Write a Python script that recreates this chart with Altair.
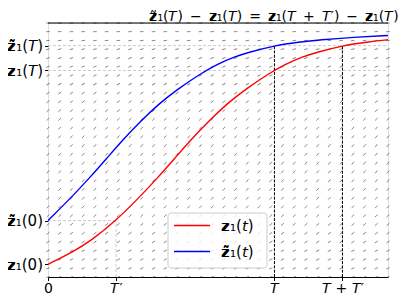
import math
import altair as alt
import pandas as pd

FONT = "DejaVu Sans"

# ---- data ----
red_t = [0.0, 0.37, 0.62, 1.0, 1.36, 1.62, 1.87, 2.09, 2.36, 2.64, 2.91, 3.24, 3.49, 3.73, 3.97, 4.33, 4.69, 5.0]
red_z = [0.050, 0.100, 0.140, 0.222, 0.318, 0.393, 0.469, 0.537, 0.613, 0.684, 0.740, 0.800, 0.838, 0.866,
         0.886, 0.911, 0.925, 0.934]

blue_t = [0.0, 0.36, 0.62, 0.87, 1.09, 1.36, 1.64, 1.91, 2.24, 2.49, 2.73, 2.97, 3.33, 3.69, 4.0, 4.5, 5.0]
blue_z = [0.222, 0.318, 0.393, 0.469, 0.537, 0.613, 0.684, 0.740, 0.800, 0.838, 0.866, 0.886, 0.911, 0.925,
          0.934, 0.944, 0.951]

T_prime = 1.0
T_val = 3.33
T_plus = 4.33
z1_0 = 0.050
zt1_0 = 0.222
z1_T = 0.813
zt1_T = 0.911

xtick_vals = [0.0, T_prime, T_val, T_plus]
xtick_labels = ["0", "𝘛′", "𝘛", "𝘛 + 𝘛′"]
ytick_vals = [z1_0, zt1_0, z1_T, zt1_T]
ytick_labels = ["𝘇₁(0)", "𝘇̃₁(0)", "𝘇₁(𝘛)", "𝘇̃₁(𝘛)"]

series_names = ["𝘇₁(𝘵)", "𝘇̃₁(𝘵)"]
series_colors = ["#ff0000", "#0000ff"]

title_text = "𝘇̃₁(𝘛)\u2002−\u2002𝘇₁(𝘛)\u2002=\u2002𝘇₁(𝘛\u2002+\u2002𝘛′)\u2002−\u2002𝘇₁(𝘛)"

# direction field grid
quiver_t = [0.0, 0.172, 0.345, 0.517, 0.69, 0.862, 1.034, 1.207, 1.379, 1.552, 1.724, 1.897, 2.069, 2.241, 2.414,
            2.586, 2.759, 2.931, 3.103, 3.276, 3.448, 3.621, 3.793, 3.966, 4.138, 4.31, 4.483, 4.655, 4.828, 5.0]
quiver_z = [0.0, 0.034, 0.069, 0.103, 0.138, 0.172, 0.207, 0.241, 0.276, 0.31, 0.345, 0.379, 0.414, 0.448, 0.483,
            0.517, 0.552, 0.586, 0.621, 0.655, 0.69, 0.724, 0.759, 0.793, 0.828, 0.862, 0.897, 0.931, 0.966, 1.0]
row_slope = [0.11, 0.13, 0.14, 0.15, 0.18, 0.21, 0.23, 0.25, 0.27, 0.29, 0.30, 0.31, 0.32, 0.33, 0.33,
             0.32, 0.30, 0.28, 0.26, 0.23, 0.21, 0.19, 0.17, 0.15, 0.12, 0.09, 0.07, 0.035, 0.01, 0.0]

# ---- layout ----
W, H = 340, 254
X_DOM = [0, 5]
Y_DOM = [0, 1]
px_per_t = W / (X_DOM[1] - X_DOM[0])
px_per_z = H / (Y_DOM[1] - Y_DOM[0])


def label_expr(vals, labels):
    expr = "''"
    for v, l in reversed(list(zip(vals, labels))):
        expr = f"abs(datum.value - {v}) < 1e-6 ? '{l}' : ({expr})"
    return expr


xs = alt.Scale(domain=X_DOM, nice=False, zero=False)
ys = alt.Scale(domain=Y_DOM, nice=False, zero=False)

# quiver
qrows = []
for zk, s in zip(quiver_z, row_slope):
    ang = math.degrees(math.atan(s * px_per_z / px_per_t))
    for tk in quiver_t:
        qrows.append({"t": tk, "z": zk, "ang": (360 - ang) % 360})
qdf = pd.DataFrame(qrows)

quiver = alt.Chart(qdf).mark_point(shape="stroke", size=13, strokeWidth=0.9, color="#333333",
                                   opacity=0.6, filled=False).encode(
    x=alt.X("t:Q", scale=xs, axis=alt.Axis(values=xtick_vals, labelExpr=label_expr(xtick_vals, xtick_labels),
                                           title=None, grid=False, domainColor="black", tickColor="black",
                                           tickSize=3.5, labelFontSize=14, labelFont=FONT, labelColor="black",
                                           labelPadding=1, labelFlush=False, labelOverlap=False)),
    y=alt.Y("z:Q", scale=ys, axis=alt.Axis(values=ytick_vals, labelExpr=label_expr(ytick_vals, ytick_labels),
                                           title=None, grid=False, domain=False, tickColor="black",
                                           tickSize=3.5, labelFontSize=15, labelFont=FONT, labelColor="black",
                                           labelPadding=2, labelOverlap=False)),
    angle=alt.Angle("ang:Q", scale=None),
)

# guide lines
hgrey = pd.DataFrame({"x1": [0, 0, 0], "x2": [X_DOM[1], X_DOM[1], T_prime], "y": [z1_T, zt1_T, zt1_0]})
hlines = alt.Chart(hgrey).mark_rule(color="#cccccc", strokeWidth=1, strokeDash=[3, 2]).encode(
    x=alt.X("x1:Q", scale=xs), x2="x2:Q", y=alt.Y("y:Q", scale=ys))
vgrey = pd.DataFrame({"x": [T_prime], "y1": [0], "y2": [zt1_0]})
vline_grey = alt.Chart(vgrey).mark_rule(color="#cccccc", strokeWidth=1, strokeDash=[3, 2]).encode(
    x=alt.X("x:Q", scale=xs), y=alt.Y("y1:Q", scale=ys), y2="y2:Q")
vblack = pd.DataFrame({"x": [T_val, T_plus], "y1": [0, 0], "y2": [zt1_T, zt1_T]})
vlines = alt.Chart(vblack).mark_rule(color="black", strokeWidth=1, strokeDash=[3, 1.3]).encode(
    x=alt.X("x:Q", scale=xs), y=alt.Y("y1:Q", scale=ys), y2="y2:Q")

top = alt.Chart(pd.DataFrame({"x1": [X_DOM[0]], "x2": [X_DOM[1]], "y": [Y_DOM[1]]})).mark_rule(
    color="black", strokeWidth=1).encode(x=alt.X("x1:Q", scale=xs), x2="x2:Q", y=alt.Y("y:Q", scale=ys))

# curves
cdf = pd.concat([
    pd.DataFrame({"t": red_t, "z": red_z, "s": series_names[0]}),
    pd.DataFrame({"t": blue_t, "z": blue_z, "s": series_names[1]}),
])
curves = alt.Chart(cdf).mark_line(strokeWidth=1.4, interpolate="basis").encode(
    x=alt.X("t:Q", scale=xs), y=alt.Y("z:Q", scale=ys),
    color=alt.Color("s:N", scale=alt.Scale(domain=series_names, range=series_colors), legend=None),
    detail="s:N")

# legend (drawn by hand)
leg_box = alt.Chart(pd.DataFrame({"a": [0]})).mark_rect(
    fill="white", fillOpacity=0.8, stroke="#cccccc", strokeWidth=1, cornerRadius=3).encode(
    x=alt.value(120), x2=alt.value(219), y=alt.value(190), y2=alt.value(245))
leg_df = pd.DataFrame({"s": series_names, "c": series_colors, "yy": [202.5, 228.5]})
leg_lines = alt.Chart(leg_df).mark_rule(strokeWidth=1.5).encode(
    x=alt.value(126), x2=alt.value(162), y=alt.Y("yy:Q", scale=None),
    color=alt.Color("c:N", scale=None))
leg_text = alt.Chart(leg_df).mark_text(align="left", baseline="middle", fontSize=15, font=FONT,
                                       color="black").encode(
    x=alt.value(173), y=alt.Y("yy:Q", scale=None), text="s:N")

# title drawn as text above the plot
title = alt.Chart(pd.DataFrame({"s": [title_text]})).mark_text(
    align="center", baseline="alphabetic", fontSize=14, font=FONT, color="black").encode(
    x=alt.value(226), y=alt.value(-2.5), text="s:N")

chart = alt.layer(quiver, hlines, vline_grey, vlines, curves, top, leg_box, leg_lines, leg_text, title).properties(
    width=W, height=H,
    autosize=alt.AutoSizeParams(type="none"),
    padding={"left": 40, "top": 15, "right": 10, "bottom": 20},
).configure_view(stroke=None).configure(background="white")

chart.save("out.html", embed_options={"renderer": "svg", "actions": False})
